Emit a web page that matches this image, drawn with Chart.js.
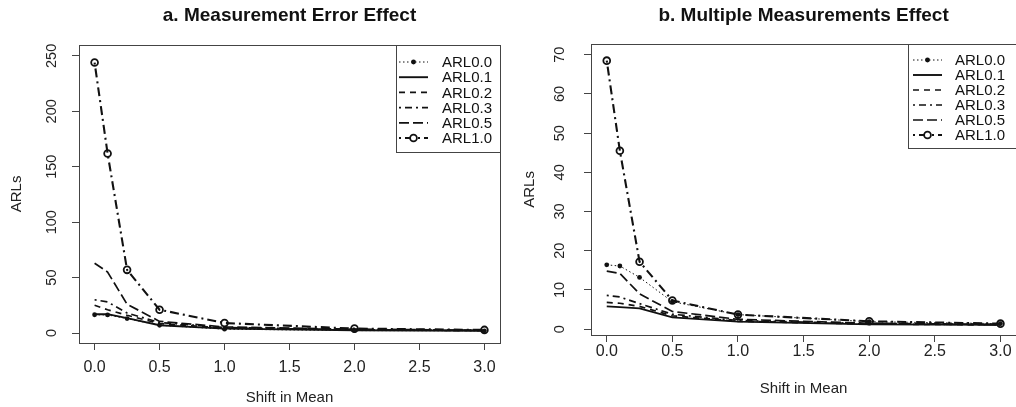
<!DOCTYPE html>
<html>
<head>
<meta charset="utf-8">
<script src="https://cdn.jsdelivr.net/npm/chart.js@4.4.0/dist/chart.umd.min.js"></script>
<style>
  html, body { margin: 0; padding: 0; background: #fff; overflow: hidden; }
  #wrapA { position: absolute; left: 0; top: 0; }
  #wrapB { position: absolute; left: 508px; top: 0; }
</style>
</head>
<body>
<div id="wrapA"><canvas id="chartA" width="508" height="407"></canvas></div>
<div id="wrapB"><canvas id="chartB" width="514" height="407"></canvas></div>
<script>
// shift values on the x axis
const shifts = [0, 0.1, 0.25, 0.5, 1.0, 2.0, 3.0];
const xTicks = [0, 0.5, 1.0, 1.5, 2.0, 2.5, 3.0];
const seriesNames = ['ARL0.0', 'ARL0.1', 'ARL0.2', 'ARL0.3', 'ARL0.5', 'ARL1.0'];

// a. measurement error effect
const errArl00 = [16.5, 16.3, 13, 7, 3.5, 2.2, 2];
const errArl01 = [17, 17, 13.5, 7, 4, 2.5, 2];
const errArl02 = [25, 21, 16, 8.5, 4.5, 3, 2.2];
const errArl03 = [30, 28, 18, 9.5, 5, 3, 2.3];
const errArl05 = [63, 55, 26, 10.5, 5.5, 3.5, 2.5];
const errArl10 = [244, 162, 57, 21, 9, 4, 2.8];
const errTicks = [0, 50, 100, 150, 200, 250];

// b. multiple measurements effect
const multArl00 = [16.4, 16.1, 13.2, 7.0, 3.7, 1.9, 1.4];
const multArl01 = [5.8, 5.6, 5.3, 3.0, 1.9, 1.2, 1.1];
const multArl02 = [6.8, 6.6, 5.8, 3.4, 2.0, 1.3, 1.1];
const multArl03 = [8.6, 8.2, 6.5, 3.8, 2.2, 1.4, 1.1];
const multArl05 = [14.8, 14.2, 9.0, 4.5, 2.5, 1.5, 1.2];
const multArl10 = [68.5, 45.5, 17.2, 7.3, 3.7, 2.0, 1.4];
const multTicks = [0, 10, 20, 30, 40, 50, 60, 70];

Chart.defaults.font.family = '"Liberation Sans", Arial, sans-serif';
Chart.defaults.color = '#222';

const ink = '#111';

// line styles per series, same order as seriesNames
const styles = [
  { borderDash: [1.5, 2.5], borderWidth: 1, pointRadius: 2.4, pointStyle: 'circle', pointBackgroundColor: ink, pointBorderWidth: 0 },
  { borderDash: [], borderWidth: 1.9, pointRadius: 0 },
  { borderDash: [6, 5], borderWidth: 1.7, pointRadius: 0 },
  { borderDash: [2, 4, 7, 4], borderWidth: 1.7, pointRadius: 0 },
  { borderDash: [10, 4], borderWidth: 1.7, pointRadius: 0 },
  { borderDash: [2, 4, 9, 4], borderWidth: 2.1, pointRadius: 3.4, pointStyle: 'circle', pointBackgroundColor: 'rgba(255,255,255,0)', pointBorderWidth: 1.8 },
];

function buildDatasets(seriesList) {
  return seriesList.map((values, i) => Object.assign({
    label: seriesNames[i],
    data: shifts.map((s, j) => ({ x: s, y: values[j] })),
    borderColor: ink,
    pointBorderColor: ink,
    tension: 0,
    fill: false,
  }, styles[i]));
}

// box round the plot region
const frame = {
  id: 'frame',
  afterDatasetsDraw(chart) {
    const { ctx, chartArea: a } = chart;
    ctx.save();
    ctx.strokeStyle = '#444';
    ctx.lineWidth = 1;
    ctx.strokeRect(Math.round(a.left) + 0.5, Math.round(a.top) + 0.5,
      Math.round(a.right - a.left), Math.round(a.bottom - a.top));
    ctx.restore();
  }
};

// legend drawn inside the top right corner
const boxLegend = {
  id: 'boxLegend',
  afterDraw(chart, args, opts) {
    const { ctx, chartArea: a } = chart;
    const x0 = Math.round(a.right - opts.width);
    const y0 = Math.round(a.top);
    ctx.save();
    ctx.fillStyle = '#fff';
    ctx.fillRect(x0, y0, opts.width, opts.height);
    ctx.strokeStyle = '#444';
    ctx.lineWidth = 1;
    ctx.strokeRect(x0 + 0.5, y0 + 0.5, opts.width, opts.height);
    chart.data.datasets.forEach((ds, i) => {
      const y = y0 + opts.firstRow + i * opts.rowGap;
      ctx.strokeStyle = ds.borderColor;
      ctx.lineWidth = ds.borderWidth;
      ctx.setLineDash(ds.borderDash);
      ctx.beginPath();
      ctx.moveTo(x0 + opts.lineFrom, y);
      ctx.lineTo(x0 + opts.lineTo, y);
      ctx.stroke();
      ctx.setLineDash([]);
      if (ds.pointRadius > 0) {
        const mx = x0 + (opts.lineFrom + opts.lineTo) / 2;
        ctx.beginPath();
        ctx.arc(mx, y, ds.pointRadius, 0, Math.PI * 2);
        if (ds.pointBorderWidth > 0) {
          ctx.fillStyle = '#fff';
          ctx.fill();
          ctx.lineWidth = ds.pointBorderWidth;
          ctx.stroke();
        } else {
          ctx.fillStyle = ink;
          ctx.fill();
        }
      }
      ctx.fillStyle = ink;
      ctx.font = '15px "Liberation Sans", Arial, sans-serif';
      ctx.textBaseline = 'middle';
      ctx.textAlign = 'left';
      ctx.fillText(ds.label, x0 + opts.textX, y + 1);
    });
    ctx.restore();
  }
};

function makeChart(canvasId, cfg) {
  return new Chart(document.getElementById(canvasId).getContext('2d'), {
    type: 'line',
    data: { datasets: buildDatasets(cfg.series) },
    options: {
      responsive: false,
      animation: false,
      layout: { padding: { left: 0, right: cfg.padRight, top: 0, bottom: 0 } },
      plugins: {
        legend: { display: false },
        tooltip: { enabled: false },
        title: {
          display: true,
          text: cfg.title,
          fullSize: false,
          color: ink,
          font: { size: 19, weight: 'bold', lineHeight: 1.2 },
          padding: { top: 4, bottom: cfg.titleGap },
        },
        boxLegend: cfg.legend,
      },
      scales: {
        x: {
          type: 'linear',
          min: -0.12,
          max: 3.12,
          afterBuildTicks: (scale) => { scale.ticks = xTicks.map((v) => ({ value: v })); },
          afterFit: (scale) => { scale.height = cfg.xHeight; },
          grid: { display: true, drawOnChartArea: false, drawTicks: true, tickLength: 7, color: '#444' },
          border: { display: false },
          ticks: { font: { size: 16 }, padding: cfg.xTickPad, maxRotation: 0, callback: (v) => v.toFixed(1) },
          title: { display: true, text: 'Shift in Mean', font: { size: 15 }, color: '#222', padding: { top: 0, bottom: cfg.xTitlePad } },
        },
        y: {
          type: 'linear',
          min: cfg.yMin,
          max: cfg.yMax,
          afterBuildTicks: (scale) => { scale.ticks = cfg.yTicks.map((v) => ({ value: v })); },
          afterFit: (scale) => { scale.width = cfg.yWidth; },
          grid: { display: true, drawOnChartArea: false, drawTicks: true, tickLength: 7, color: '#444' },
          border: { display: false },
          ticks: { font: { size: 14.5 }, padding: cfg.yTickPad, minRotation: 90, maxRotation: 90, crossAlign: 'center' },
          title: { display: true, text: 'ARLs', font: { size: 15 }, color: '#222', padding: { top: cfg.yTitlePad, bottom: 0 } },
        },
      },
    },
    plugins: [frame, boxLegend],
  });
}

makeChart('chartA', {
  title: 'a. Measurement Error Effect',
  series: [errArl00, errArl01, errArl02, errArl03, errArl05, errArl10],
  yTicks: errTicks,
  yMin: -9,
  yMax: 260,
  padRight: 8,
  titleGap: 18,
  xHeight: 64,
  yWidth: 79,
  xTickPad: 8,
  xTitlePad: 0,
  yTickPad: 8,
  yTitlePad: 8,
  legend: { width: 104, height: 107, firstRow: 17, rowGap: 15.2, lineFrom: 3, lineTo: 32, textX: 46 },
});

makeChart('chartB', {
  title: 'b. Multiple Measurements Effect',
  series: [multArl00, multArl01, multArl02, multArl03, multArl05, multArl10],
  yTicks: multTicks,
  yMin: -1.5,
  yMax: 72.8,
  padRight: 4,
  titleGap: 17,
  xHeight: 72,
  yWidth: 83,
  xTickPad: 0,
  xTitlePad: 9,
  yTickPad: 16,
  yTitlePad: 13,
  legend: { width: 108, height: 104, firstRow: 16, rowGap: 15, lineFrom: 5, lineTo: 34, textX: 47 },
});
</script>
</body>
</html>
